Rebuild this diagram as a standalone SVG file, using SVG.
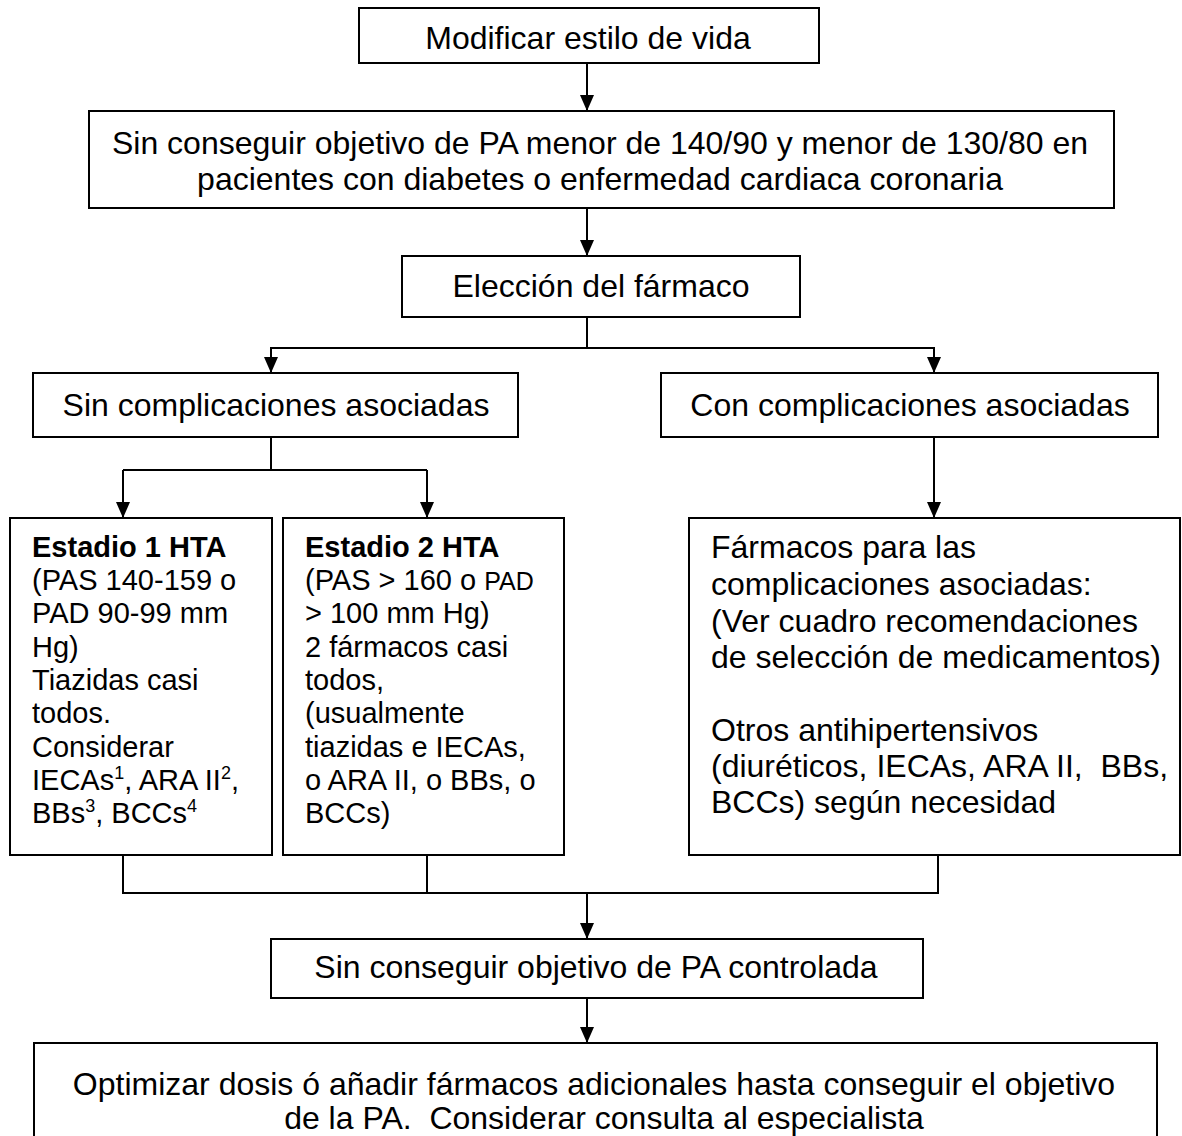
<svg xmlns="http://www.w3.org/2000/svg" width="1182" height="1136" viewBox="0 0 1182 1136">
<style>
.box{fill:#fff;stroke:#000;stroke-width:2}
.t{font-family:"Liberation Sans",Arial,sans-serif;font-size:32px;fill:#000}
.tc{text-anchor:middle}
.s{font-family:"Liberation Sans",Arial,sans-serif;font-size:29px;fill:#000}
.b{font-weight:bold}
.pre{white-space:pre}
.c{fill:none;stroke:#000;stroke-width:2}
</style>
<defs>
<marker id="ah" viewBox="0 0 16 14" refX="16" refY="7" markerWidth="16" markerHeight="14" markerUnits="userSpaceOnUse" orient="auto">
<path d="M0,0 L16,7 L0,14 z" fill="#000"/>
</marker>
</defs>
<rect width="1182" height="1136" fill="#fff"/>
<g id="connectors">
<line class="c" x1="587" y1="63" x2="587" y2="111" marker-end="url(#ah)"/>
<line class="c" x1="587" y1="208" x2="587" y2="256" marker-end="url(#ah)"/>
<polyline class="c" points="587,317 587,348"/>
<polyline class="c" points="271,373 271,348 934,348 934,373" marker-start="none"/>
<line class="c" x1="271" y1="348" x2="271" y2="373" marker-end="url(#ah)"/>
<line class="c" x1="934" y1="348" x2="934" y2="373" marker-end="url(#ah)"/>
<polyline class="c" points="271,437 271,470"/>
<polyline class="c" points="123,470 427,470"/>
<line class="c" x1="123" y1="470" x2="123" y2="518" marker-end="url(#ah)"/>
<line class="c" x1="427" y1="470" x2="427" y2="518" marker-end="url(#ah)"/>
<line class="c" x1="934" y1="437" x2="934" y2="518" marker-end="url(#ah)"/>
<polyline class="c" points="123,855 123,893 938,893 938,855"/>
<line class="c" x1="427" y1="855" x2="427" y2="893"/>
<line class="c" x1="587" y1="893" x2="587" y2="939" marker-end="url(#ah)"/>
<line class="c" x1="587" y1="998" x2="587" y2="1043" marker-end="url(#ah)"/>
</g>
<g id="n1">
<rect class="box" x="359" y="8" width="460" height="55"/>
<text class="t tc" x="588" y="49">Modificar estilo de vida</text>
</g>
<g id="n2">
<rect class="box" x="89" y="111" width="1025" height="97"/>
<text class="t tc" x="600" y="154">Sin conseguir objetivo de PA menor de 140/90 y menor de 130/80 en</text>
<text class="t tc" x="600" y="190">pacientes con diabetes o enfermedad cardiaca coronaria</text>
</g>
<g id="n3">
<rect class="box" x="402" y="256" width="398" height="61"/>
<text class="t tc" x="601" y="297">Elección del fármaco</text>
</g>
<g id="n4">
<rect class="box" x="33" y="373" width="485" height="64"/>
<text class="t tc" x="276" y="416">Sin complicaciones asociadas</text>
</g>
<g id="n5">
<rect class="box" x="661" y="373" width="497" height="64"/>
<text class="t tc" x="910" y="416">Con complicaciones asociadas</text>
</g>
<g id="n6">
<rect class="box" x="10" y="518" width="262" height="337"/>
<text class="s" x="32" y="557"><tspan class="b">Estadio 1 HTA</tspan>
<tspan x="32" y="590">(PAS 140-159 o</tspan>
<tspan x="32" y="623">PAD 90-99 mm</tspan>
<tspan x="32" y="657">Hg)</tspan>
<tspan x="32" y="690">Tiazidas casi</tspan>
<tspan x="32" y="723">todos.</tspan>
<tspan x="32" y="757">Considerar</tspan>
<tspan x="32" y="790">IECAs<tspan font-size="18" dy="-11">1</tspan><tspan dy="11">, ARA II</tspan><tspan font-size="18" dy="-11">2</tspan><tspan dy="11">,</tspan></tspan>
<tspan x="32" y="823">BBs<tspan font-size="18" dy="-11">3</tspan><tspan dy="11">, BCCs</tspan><tspan font-size="18" dy="-11">4</tspan></tspan></text>
</g>
<g id="n7">
<rect class="box" x="283" y="518" width="281" height="337"/>
<text class="s" x="305" y="557"><tspan class="b">Estadio 2 HTA</tspan>
<tspan x="305" y="590">(PAS &gt; 160 o <tspan font-size="25">PAD</tspan></tspan>
<tspan x="305" y="623">&gt; 100 mm Hg)</tspan>
<tspan x="305" y="657">2 fármacos casi</tspan>
<tspan x="305" y="690">todos,</tspan>
<tspan x="305" y="723">(usualmente</tspan>
<tspan x="305" y="757">tiazidas e IECAs,</tspan>
<tspan x="305" y="790">o ARA II, o BBs, o</tspan>
<tspan x="305" y="823">BCCs)</tspan></text>
</g>
<g id="n8">
<rect class="box" x="689" y="518" width="491" height="337"/>
<text class="t" x="711" y="558">Fármacos para las</text>
<text class="t" x="711" y="595">complicaciones asociadas:</text>
<text class="t" x="711" y="632">(Ver cuadro recomendaciones</text>
<text class="t" x="711" y="668">de selección de medicamentos)</text>
<text class="t" x="711" y="741">Otros antihipertensivos</text>
<text class="t pre" x="711" y="777">(diuréticos, IECAs, ARA II,  BBs,</text>
<text class="t" x="711" y="813">BCCs) según necesidad</text>
</g>
<g id="n9">
<rect class="box" x="271" y="939" width="652" height="59"/>
<text class="t tc" x="596" y="978">Sin conseguir objetivo de PA controlada</text>
</g>
<g id="n10">
<rect class="box" x="34" y="1043" width="1123" height="120"/>
<text class="t tc" x="594" y="1095">Optimizar dosis ó añadir fármacos adicionales hasta conseguir el objetivo</text>
<text class="t tc pre" x="604" y="1129">de la PA.  Considerar consulta al especialista</text>
</g>
</svg>
